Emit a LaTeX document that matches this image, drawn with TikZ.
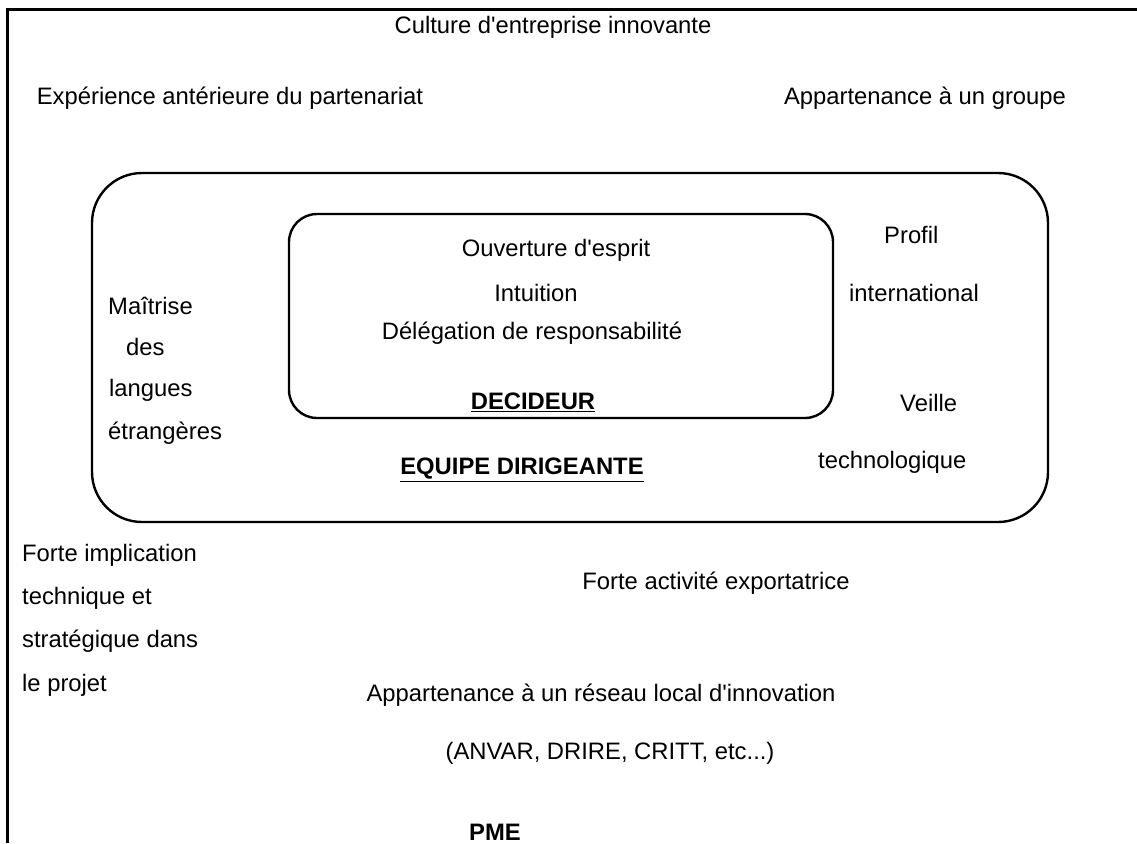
\documentclass[tikz,border=0pt]{standalone}
\usepackage{fontspec}
\setmainfont{Liberation Sans}
\usetikzlibrary{positioning}

\tikzset{
  txt/.style={inner sep=0pt, font=\fontsize{23.8}{27}\selectfont},
  lft/.style={txt, anchor=west},
  box/.style={draw, line width=2.4pt, inner sep=0pt}
}

\begin{document}
\begin{tikzpicture}[x=1pt, y=-1pt]
            \useasboundingbox (0,0) rectangle (1137,843);
            % frame
            \draw[line width=3pt] (7,843) -- (7,10) -- (1137,10);
            % boxes
            \node[box, rounded corners=50pt, minimum width=956pt, minimum height=349pt] (equipe) at (570,347.5) {};
            \node[box, rounded corners=28pt, minimum width=544pt, minimum height=204pt] (decideur) at (561,316) {};
            % outside the team
            \node[txt] (culture) at (553,27) {Culture d\textquotesingle entreprise innovante};
            \node[txt] (experience) at (230,98) {Expérience antérieure du partenariat};
            \node[txt] (groupe) at (925,98) {Appartenance à un groupe};
            % decider
            \node[txt] (ouverture) at (556,250) {Ouverture d\textquotesingle esprit};
            \node[txt] (intuition) at (536,293) {Intuition};
            \node[txt] (delegation) at (532,333) {Délégation de responsabilité};
            \node[txt, font=\fontsize{23.8}{27}\selectfont\bfseries] (titredec) at (533,402) {\underline{DECIDEUR}};
            % team
            \node[txt, font=\fontsize{23.8}{27}\selectfont\bfseries] (titreeq) at (522,470) {\underline{EQUIPE DIRIGEANTE}};
            \node[lft] (maitrise) at (108,306) {Maîtrise};
            \node[lft] (des) at (126,347) {des};
            \node[lft] (langues) at (109,390) {langues};
            \node[lft] (etrangeres) at (108,433) {étrangères};
            \node[lft] (profil) at (884,235) {Profil};
            \node[lft] (international) at (849,293) {international};
            \node[lft] (veille) at (900,403) {Veille};
            \node[lft] (techno) at (818,462) {technologique};
            % SME
            \node[lft] (forte) at (22,555) {Forte implication};
            \node[lft] (technique) at (22,598) {technique et};
            \node[lft] (strategique) at (22,641) {stratégique dans};
            \node[lft] (projet) at (22,685) {le projet};
            \node[txt] (export) at (716,583) {Forte activité exportatrice};
            \node[txt] (reseau) at (601,695) {Appartenance à un réseau local d\textquotesingle innovation};
            \node[txt] (anvar) at (610,753) {(ANVAR, DRIRE, CRITT, etc...)};
            \node[txt, font=\fontsize{23.8}{27}\selectfont\bfseries] (pme) at (495,832) {PME};
        \end{tikzpicture}
\end{document}
